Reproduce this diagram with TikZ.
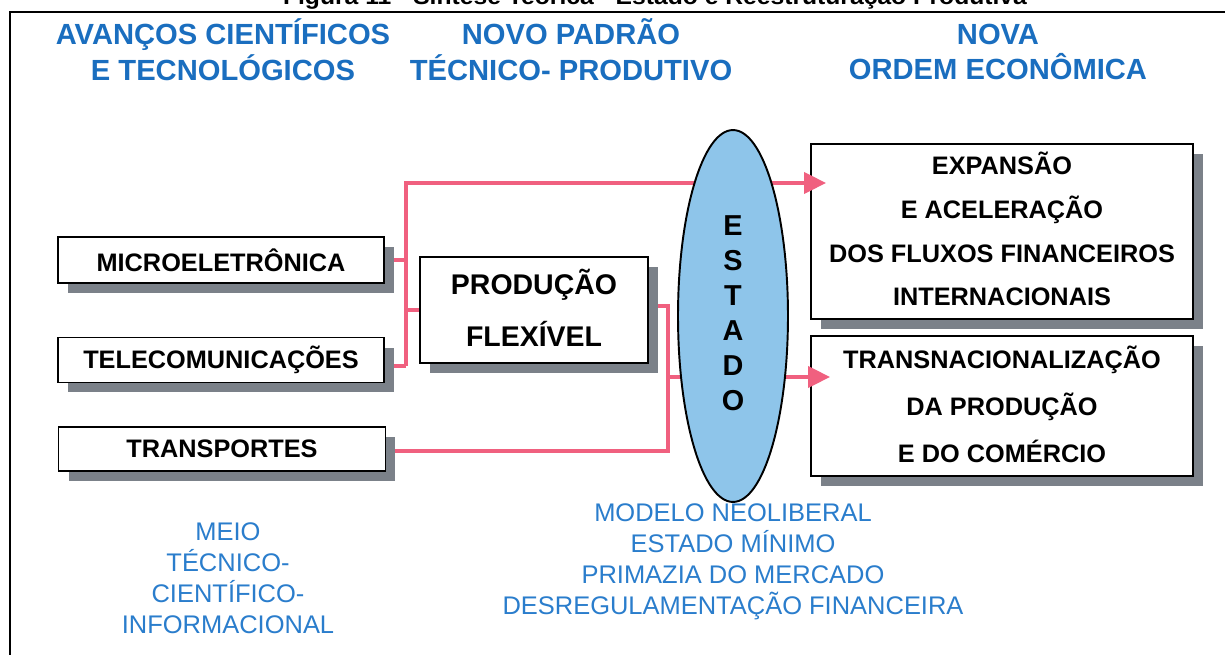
\documentclass[tikz,border=0pt]{standalone}
\usepackage{fontspec}
\usepackage{graphicx}
\setmainfont{Liberation Sans}
\usetikzlibrary{arrows.meta,shapes.geometric,shadows,backgrounds}
\definecolor{hdrblue}{HTML}{1A6EBF}
\definecolor{lowblue}{HTML}{2A7DCC}
\definecolor{linkpink}{HTML}{F0607F}
\definecolor{stateblue}{HTML}{8EC5EA}
\definecolor{shadowgray}{HTML}{7B8189}
\begin{document}
\begin{tikzpicture}[x=0.02cm, y=-0.02cm,
  shbox/.style={draw=black, line width=1.1pt, fill=white, inner sep=0pt, align=center,
    font=\fontsize{14.4pt}{17.3pt}\selectfont\bfseries,
    general shadow={fill=shadowgray, shadow xshift=0.2cm, shadow yshift=-0.2cm}},
  link/.style={draw=linkpink, line width=0.08cm},
  tipstyle/.style={-{Triangle[length=0.44cm,width=0.42cm]}},
  hdr/.style={text=hdrblue, align=center, font=\fontsize{16.6pt}{20.4pt}\selectfont\bfseries},
  lowtxt/.style={text=lowblue, align=center, font=\fontsize{14.5pt}{17.6pt}\selectfont}]
\useasboundingbox (0,0) rectangle (1225,655);

% frame and clipped caption
\draw[line width=0.05cm] (10,655) -- (10,12) -- (1225,12);
\node[anchor=base, inner sep=0pt, font=\fontsize{13pt}{15pt}\selectfont\bfseries] (title) at (655,5)
  {\resizebox{14.88cm}{\height}{Figura 11 - Síntese Teórica - Estado e Reestruturação Produtiva}};

% headings
\node[hdr] (h1) at (223,50) {AVANÇOS CIENTÍFICOS\\E TECNOLÓGICOS};
\node[hdr] (h2) at (571,50) {NOVO PADRÃO\\TÉCNICO- PRODUTIVO};
\node[hdr] (h3) at (998,52) {NOVA\\ORDEM ECONÔMICA};

% left boxes
\node[shbox, minimum width=6.52cm, minimum height=0.92cm] (micro) at (221,260) {MICROELETRÔNICA};
\node[shbox, minimum width=6.52cm, minimum height=0.9cm] (tele) at (221,360) {TELECOMUNICAÇÕES};
\node[shbox, minimum width=6.54cm, minimum height=0.88cm] (trans) at (222,449) {TRANSPORTES};

% production box
\node[shbox, minimum width=4.56cm, minimum height=2.04cm,
  font=\fontsize{16.2pt}{30pt}\selectfont\bfseries] (prod) at (534,310) {\strut PRODUÇÃO\\\strut FLEXÍVEL};

% right boxes
\node[shbox, minimum width=7.64cm, minimum height=3.46cm,
  font=\fontsize{14.4pt}{24.9pt}\selectfont\bfseries] (exp) at (1002,231.5)
  {\strut EXPANSÃO\\\strut E ACELERAÇÃO\\\strut DOS FLUXOS FINANCEIROS\\\strut INTERNACIONAIS};
\node[shbox, minimum width=7.64cm, minimum height=2.76cm,
  font=\fontsize{14.4pt}{26.6pt}\selectfont\bfseries] (trn) at (1002,406)
  {\strut TRANSNACIONALIZAÇÃO\\\strut DA PRODUÇÃO\\\strut E DO COMÉRCIO};

% state ellipse
\node[ellipse, draw=black, line width=1.1pt, fill=stateblue, minimum width=2.2cm, minimum height=7.44cm,
  inner sep=0pt, align=center, font=\fontsize{16.4pt}{20pt}\selectfont\bfseries] (estado) at (733,316)
  {\strut E\\\strut S\\\strut T\\\strut A\\\strut D\\\strut O};

% bottom texts
\node[lowtxt] (meio) at (228,578) {MEIO\\TÉCNICO-\\CIENTÍFICO-\\INFORMACIONAL};
\node[lowtxt] (modelo) at (733,562) {MODELO NEOLIBERAL\\ESTADO MÍNIMO\\PRIMAZIA DO MERCADO\\DESREGULAMENTAÇÃO FINANCEIRA};

% connector points
\coordinate (trunkTop) at (406,183);
\coordinate (trunkBot) at (406,366);
\coordinate (prodOut) at (668,306);
\coordinate (split) at (668,377);
\coordinate (merge) at (668,451);
\path (exp.west |- trunkTop) ++(16,0) coordinate (tipA);
\path (trn.west |- split) ++(20,0) coordinate (tipB);
\coordinate (outA) at (estado.east |- trunkTop);
\coordinate (outB) at (estado.east |- split);

% connectors behind boxes and ellipse
\begin{pgfonlayer}{background}
  \draw[link] (trunkBot) -- (trunkTop) -- (outA);
  \draw[link] (micro.east) -- (micro.east -| trunkTop);
  \draw[link] (tele.east |- trunkBot) -- (trunkBot);
  \draw[link] (prod.west -| trunkTop) -- (prod.west);
  \draw[link] (prod.east |- prodOut) -- (prodOut) -- (merge) -- (trans.east |- merge);
  \draw[link] (split) -- (outB);
\end{pgfonlayer}
% arrow ends on top of the target boxes
\draw[link, tipstyle] (outA) -- (tipA);
\draw[link, tipstyle] (outB) -- (tipB);
\end{tikzpicture}
\end{document}
